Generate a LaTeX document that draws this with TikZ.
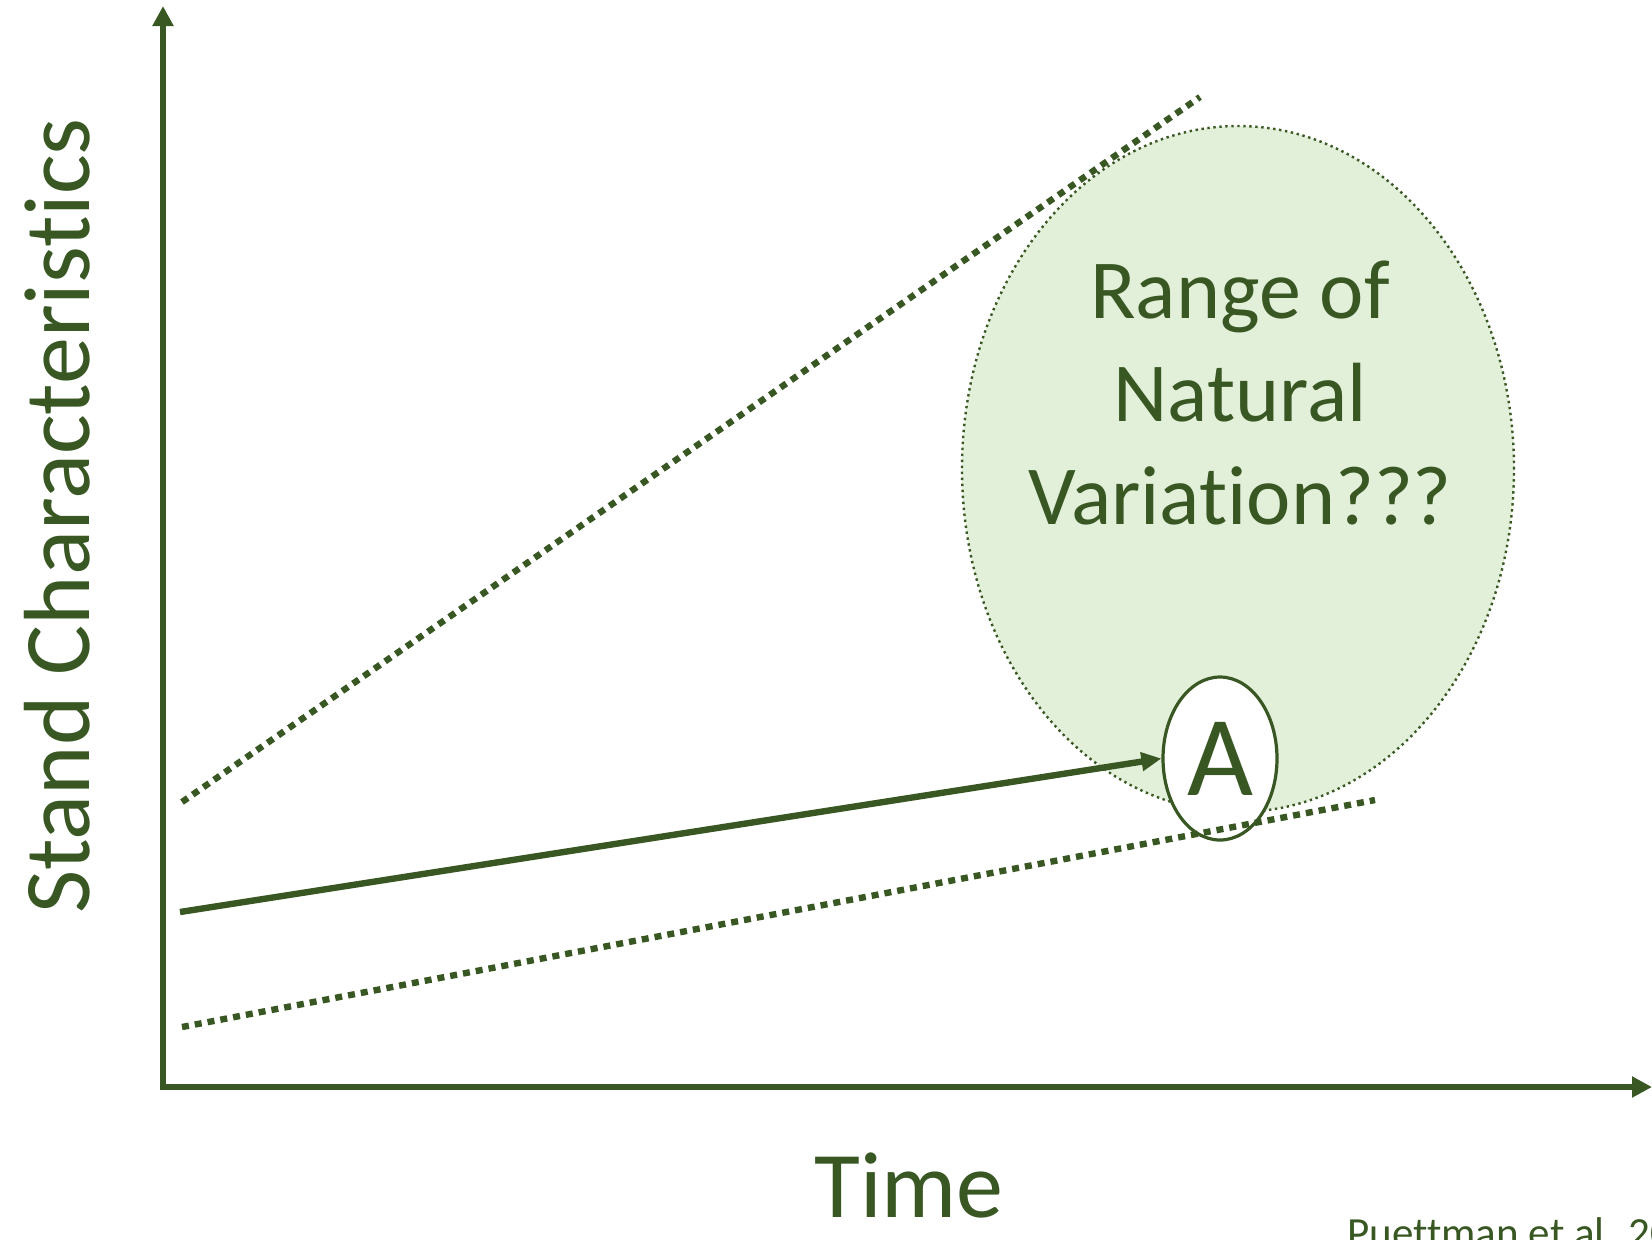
\documentclass[tikz,border=0pt]{standalone}
\usepackage{fontspec}
\setmainfont{Carlito}[Ligatures={NoCommon,NoDiscretionary,NoRequired,NoContextual}]
\usetikzlibrary{arrows.meta,shapes.geometric}
\definecolor{dkgreen}{HTML}{385723}
\definecolor{ltgreen}{HTML}{E2EFD9}
\newcommand{\nolig}{\kern0pt\relax}
\begin{document}
\begin{tikzpicture}[x=0.5pt,y=-0.5pt,
  axisline/.style={draw=dkgreen, line width=3pt, -{Triangle[length=10pt,width=10pt]}},
  trendline/.style={draw=dkgreen, line width=3.2pt, -{Triangle[length=10pt,width=9pt]}},
  bigdots/.style={draw=dkgreen, line width=3.2pt, dash pattern=on 3.5pt off 3pt},
  label/.style={text=dkgreen, inner sep=0pt}]
\useasboundingbox (0,0) rectangle (1652,1239);
% range ellipse
\node[ellipse, fill=ltgreen, draw=dkgreen, line width=1.2pt, dash pattern=on 1.2pt off 1.8pt,
      minimum width=276pt, minimum height=343pt, inner sep=0pt] (rnv) at (1238,469) {};
\node[label, font=\fontsize{42}{51.5}\selectfont, align=center, anchor=base] (rnvtext) at (1240,524)
  {Range of\\Natural\\Variat\nolig ion???};
% upper dotted bound
\coordinate (u1) at (182,802);
\coordinate (u2) at (1200,97);
\draw[bigdots] (u1) -- (u2);
% point A
\node[ellipse, draw=dkgreen, fill=white, line width=1.6pt, minimum width=57pt, minimum height=81.5pt,
      inner sep=0pt, text=dkgreen, font=\fontsize{57}{60}\selectfont] (A) at (1220,758.5) {A};
% lower dotted bound
\coordinate (l1) at (182,1027);
\coordinate (l2) at (1375,800);
\draw[bigdots] (l1) -- (l2);
% trajectory
\coordinate (s) at (180,912);
\draw[trendline] (s) -- (A.west);
% axes
\coordinate (O) at (163,1087);
\coordinate (ytip) at (163,6);
\coordinate (xtip) at (1652,1087);
\draw[axisline, line cap=rect] (O) -- (ytip);
\draw[axisline, line cap=rect] (O) -- (xtip);
% labels
\node[label, rotate=90, anchor=base, font=\fontsize{47}{50}\selectfont] (ylab) at (89,516) {Stand Characterist\nolig ics};
\node[label, anchor=base, font=\fontsize{47}{50}\selectfont] (xlab) at (909,1217) {Time};
\node[label, anchor=base west, font=\fontsize{21.5}{24}\selectfont] (cite) at (1347,1247) {Puettman et al. 2009};
\end{tikzpicture}
\end{document}
